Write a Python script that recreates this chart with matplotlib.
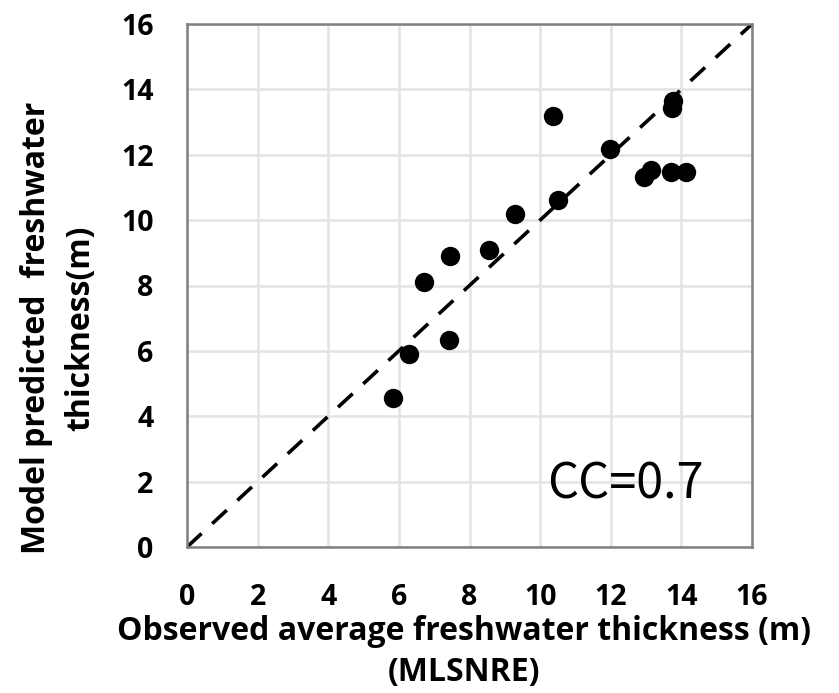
import matplotlib
matplotlib.use("Agg")
import matplotlib.pyplot as plt

# observed vs model predicted freshwater thickness (m)
observed = [5.84, 6.29, 6.71, 7.42, 7.46, 8.56, 9.28, 10.36, 10.52, 11.97,
            12.94, 13.13, 13.70, 14.14, 13.74, 13.76]
predicted = [4.57, 5.91, 8.12, 6.32, 8.89, 9.09, 10.18, 13.18, 10.62, 12.19,
             11.33, 11.53, 11.46, 11.46, 13.43, 13.63]
ticks = [0, 2, 4, 6, 8, 10, 12, 14, 16]
one_to_one = [0, 16]

plt.rcParams['font.family'] = ['Open Sans', 'DejaVu Sans']

fig = plt.figure(figsize=(8.39, 6.93), dpi=100)
ax = fig.add_axes([187 / 839, 146 / 693, 565 / 839, 523 / 693])

ax.plot(one_to_one, one_to_one, color='black', linestyle=(0, (5.5, 4)),
        linewidth=2.6, zorder=2)
ax.scatter(observed, predicted, s=195, color='black', zorder=3, linewidths=0)

ax.set_xlim(0, 16)
ax.set_ylim(0, 16)
ax.set_xticks(ticks)
ax.set_yticks(ticks)
ax.grid(True, color='#e3e3e3', linewidth=1.8, zorder=0)
ax.set_axisbelow(True)
ax.tick_params(length=0, labelsize=20.5, pad=0)
ax.tick_params(axis='x', pad=26)
ax.tick_params(axis='y', pad=24)
for lab in ax.get_xticklabels() + ax.get_yticklabels():
    lab.set_fontweight('bold')
for sp in ax.spines.values():
    sp.set_color('#7f7f7f')
    sp.set_linewidth(1.8)

label_size = 23
fig.text(464 / 839, 1 - 631 / 693, 'Observed average freshwater thickness (m)',
         ha='center', va='center', fontsize=label_size, fontweight='bold')
fig.text(464 / 839, 1 - 672 / 693, '(MLSNRE)',
         ha='center', va='center', fontsize=label_size, fontweight='bold')
fig.text(37 / 839, 1 - 328 / 693, 'Model predicted  freshwater',
         ha='center', va='center', rotation=90, fontsize=label_size,
         fontweight='bold')
fig.text(81 / 839, 1 - 328 / 693, 'thickness(m)',
         ha='center', va='center', rotation=90, fontsize=label_size,
         fontweight='bold')

ax.text(10.2, 1.9, 'CC=0.7', fontsize=35, ha='left', va='center',
        family=['Noto Sans CJK KR', 'DejaVu Sans'])

fig.savefig('out.png', dpi=100)
